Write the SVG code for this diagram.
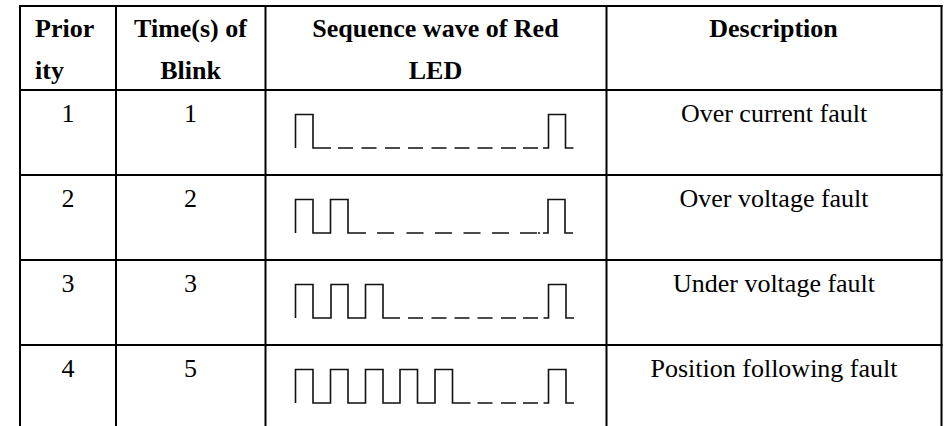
<svg xmlns="http://www.w3.org/2000/svg" width="946" height="426" viewBox="0 0 946 426">
  <style>
    .grid { stroke: #000; stroke-width: 2; fill: none; }
    .wave { stroke: #111; stroke-width: 1.6; fill: none; stroke-linejoin: miter; stroke-linecap: butt; }
    .hd { font-family: "Liberation Serif", "Times New Roman", serif; font-size: 26px; font-weight: bold; fill: #000; }
    .tx { font-family: "Liberation Serif", "Times New Roman", serif; font-size: 26px; fill: #000; }
    .c { text-anchor: middle; }
  </style>
  <rect width="946" height="426" fill="#fff"/>
  <g id="table-grid" class="grid">
    <path d="M19,6 H942.5"/>
    <path d="M20,5 V426"/>
    <path d="M116,5 V426"/>
    <path d="M265.5,5 V426"/>
    <path d="M606.5,5 V426"/>
    <path d="M941.5,5 V426"/>
    <path d="M19,90 H942.5"/>
    <path d="M19,175 H942.5"/>
    <path d="M19,260 H942.5"/>
    <path d="M19,345 H942.5"/>
  </g>
  <g id="header">
    <text class="hd" x="35" y="37">Prior</text>
    <text class="hd" x="35" y="79">ity</text>
    <text class="hd c" x="190.5" y="37">Time(s) of</text>
    <text class="hd c" x="190.5" y="79">Blink</text>
    <text class="hd c" x="435.5" y="37">Sequence wave of Red</text>
    <text class="hd c" x="435.5" y="79">LED</text>
    <text class="hd c" x="773.5" y="37">Description</text>
  </g>
  <g id="row-1">
    <text class="tx c" x="68" y="122">1</text>
    <text class="tx c" x="190.5" y="122">1</text>
    <path class="wave" d="M295.5,148 V114.5 H313 V148 H331 M338,148 h15 M361.5,148 h15 M385,148 h15 M408,148 h15 M431.5,148 h15 M454.5,148 h15 M477.5,148 h15 M501,148 h15 M523,148 h15 M543,148 H548.5 V114.5 H565.5 V148 H573.5"/>
    <text class="tx c" x="774" y="122">Over current fault</text>
  </g>
  <g id="row-2">
    <text class="tx c" x="68" y="207">2</text>
    <text class="tx c" x="190.5" y="207">2</text>
    <path class="wave" d="M295.5,233 V199.5 H313 V233 H330.5 V199.5 H348 V233 H366 M377,233 h17 M406.5,233 h17 M435,233 h17 M463.5,233 h17 M492,233 h17 M520,233 h17 M538,233 h2 M543,233 H548 V199.5 H565 V233 H573"/>
    <text class="tx c" x="774" y="207">Over voltage fault</text>
  </g>
  <g id="row-3">
    <text class="tx c" x="68" y="292">3</text>
    <text class="tx c" x="190.5" y="292">3</text>
    <path class="wave" d="M295.5,318 V284.5 H313 V318 H331 V284.5 H348 V318 H365.5 V284.5 H383 V318 H400 M408,318 h15 M431.5,318 h15 M454.5,318 h15 M477.5,318 h15 M501,318 h15 M523,318 h15 M543.5,318 H548.5 V284.5 H566 V318 H574"/>
    <text class="tx c" x="774" y="292">Under voltage fault</text>
  </g>
  <g id="row-4">
    <text class="tx c" x="68" y="377">4</text>
    <text class="tx c" x="190.5" y="377">5</text>
    <path class="wave" d="M295.5,403 V369.5 H313 V403 H330.5 V369.5 H348 V403 H365.5 V369.5 H383 V403 H400 V369.5 H417.5 V403 H435 V369.5 H452.5 V403 H470.5 M477.5,403 h15 M501,403 h15 M523,403 h15 M543.5,403 H548.5 V369.5 H566 V403 H574"/>
    <text class="tx c" x="774" y="377">Position following fault</text>
  </g>
</svg>
